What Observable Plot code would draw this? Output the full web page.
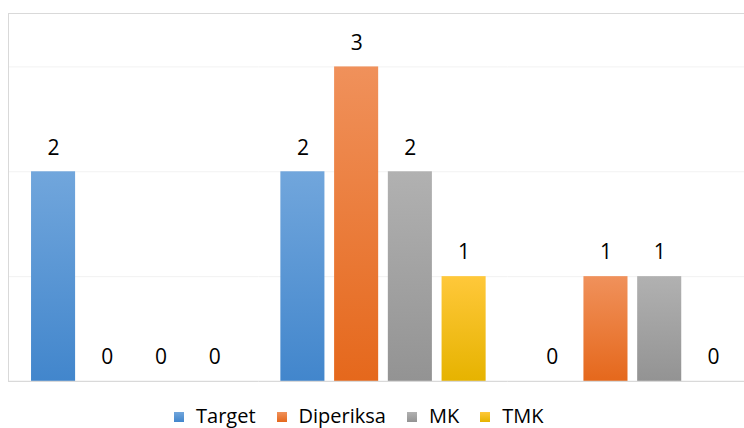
<!DOCTYPE html>
<html>
<head>
<meta charset="utf-8">
<script src="https://cdn.jsdelivr.net/npm/d3@7"></script>
<script src="https://cdn.jsdelivr.net/npm/@observablehq/plot@0.6"></script>
<style>
  html, body { margin: 0; padding: 0; background: #fff; width: 744px; height: 428px; overflow: hidden; }
  #wrap { position: absolute; left: 8px; top: 13px; width: 740px; overflow: hidden; border-left: 1px solid #d9d9d9; border-top: 1px solid #d9d9d9; }
  #legend { position: absolute; left: 174px; top: 402px; display: flex; align-items: center; font-family: "Open Sans", Lato, sans-serif; font-size: 20px; color: #000; white-space: nowrap; }
  #legend .item { display: flex; align-items: center; margin-right: 21px; }
  #legend .sw { width: 10px; height: 10px; margin-right: 12px; margin-top: 3px; }
</style>
</head>
<body>
<div id="wrap"></div>
<div id="legend"></div>
<script>
const groups = ["G1", "G2", "G3"];
const series = ["Target", "Diperiksa", "MK", "TMK"];
const target = [2, 2, 0];
const diperiksa = [0, 3, 1];
const mk = [0, 2, 1];
const tmk = [0, 1, 0];
const yTicks = [0, 1, 2, 3];

const colorsTop = ["#71a6dc", "#f0915b", "#b1b1b1", "#ffc83a"];
const colorsBottom = ["#4286cc", "#e5681c", "#939393", "#e6b300"];

const values = [target, diperiksa, mk, tmk];
const data = [];
groups.forEach((g, gi) => {
  series.forEach((s, si) => data.push({group: g, series: s, value: values[si][gi]}));
});

const gid = s => "grad-" + s;

const marks = [
  Plot.ruleY(yTicks.filter(d => d > 0), {stroke: "#f2f2f2", strokeWidth: 1}),
  ...series.map(s => Plot.barY(data.filter(d => d.series === s), {
    x: "series", y: "value", fx: "group", fill: `url(#${gid(s)})`,
    style: "filter: drop-shadow(0px 1px 2px rgba(0,0,0,0.3))"
  })),
  Plot.ruleY([0], {stroke: "#d9d9d9", strokeWidth: 1.5}),
  Plot.text(data, {x: "series", y: "value", fx: "group", text: d => String(d.value), dy: -24,
    fontSize: 21, fill: "#000", fontFamily: "'Open Sans', Lato, sans-serif"})
];

const chart = Plot.plot({
  width: 748,
  height: 368,
  marginTop: 0,
  marginBottom: 1,
  marginLeft: 0,
  marginRight: 0,
  style: {background: "transparent", overflow: "visible", maxWidth: "none"},
  fx: {domain: groups, padding: 0, axis: null, round: false},
  x: {domain: series, paddingInner: 0.18, paddingOuter: 0.41, axis: null, round: false},
  y: {domain: [0, 3.5], axis: null},
  marks
});
chart.style.maxWidth = "none";

const defs = d3.select(chart).insert("defs", ":first-child");
series.forEach((s, i) => {
  const lg = defs.append("linearGradient").attr("id", gid(s))
    .attr("x1", 0).attr("y1", 0).attr("x2", 0).attr("y2", 1)
    .attr("gradientUnits", "objectBoundingBox");
  lg.append("stop").attr("offset", "0%").attr("stop-color", colorsTop[i]);
  lg.append("stop").attr("offset", "100%").attr("stop-color", colorsBottom[i]);
});

document.getElementById("wrap").appendChild(chart);

const legend = document.getElementById("legend");
series.forEach((s, i) => {
  const item = document.createElement("div");
  item.className = "item";
  const sw = document.createElement("span");
  sw.className = "sw";
  sw.style.background = `linear-gradient(${colorsTop[i]}, ${colorsBottom[i]})`;
  const t = document.createElement("span");
  t.textContent = s;
  item.appendChild(sw);
  item.appendChild(t);
  legend.appendChild(item);
});
</script>
</body>
</html>
